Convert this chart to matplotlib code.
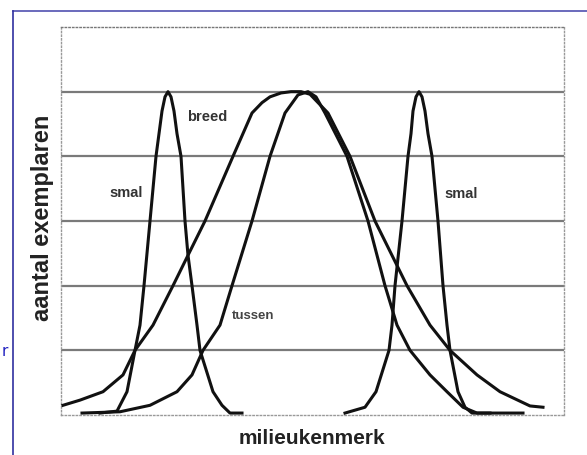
import matplotlib
matplotlib.use('Agg')
import matplotlib.pyplot as plt
from matplotlib.lines import Line2D

# curves (x in arbitrary units 0..503, y in grid units 0..6)
smal_l_x = [39, 56, 66, 74, 79, 83, 89, 95, 98, 101, 104, 107, 110, 113, 116, 120, 124, 127, 131, 136, 139, 152, 161, 169, 181]
smal_l_y = [0.03, 0.06, 0.36, 1.0, 1.39, 2.0, 3.0, 4.0, 4.35, 4.7, 4.92, 5.0, 4.92, 4.7, 4.35, 4.0, 3.0, 2.47, 2.0, 1.39, 1.0, 0.36, 0.15, 0.03, 0.03]

smal_r_x = [284, 304, 315, 328, 331, 334, 341, 347, 350, 352, 355, 358, 361, 364, 367, 371, 377, 382, 386, 389, 397, 404, 411, 429]
smal_r_y = [0.03, 0.12, 0.36, 1.0, 1.39, 2.0, 3.0, 4.0, 4.35, 4.7, 4.92, 5.0, 4.92, 4.7, 4.35, 4.0, 3.0, 2.0, 1.39, 1.0, 0.36, 0.12, 0.03, 0.03]

breed_x = [2, 19, 42, 62, 74, 92, 112, 127, 144, 172, 191, 201, 209, 220, 230, 240, 249, 267, 289, 314, 346, 369, 389, 416, 439, 469, 482]
breed_y = [0.15, 0.23, 0.36, 0.62, 1.0, 1.39, 2.0, 2.47, 3.0, 4.0, 4.67, 4.83, 4.92, 4.98, 5.0, 5.0, 4.96, 4.67, 4.0, 3.0, 2.0, 1.39, 1.0, 0.62, 0.36, 0.14, 0.12]

tussen_x = [21, 59, 89, 116, 131, 142, 159, 171, 191, 209, 224, 237, 247, 255, 264, 286, 307, 324, 336, 349, 369, 386, 402, 416, 462]
tussen_y = [0.03, 0.05, 0.15, 0.36, 0.62, 1.0, 1.39, 2.0, 3.0, 4.0, 4.67, 4.95, 5.0, 4.92, 4.67, 4.0, 3.0, 2.0, 1.39, 1.0, 0.62, 0.36, 0.12, 0.03, 0.03]

grid_levels = [1, 2, 3, 4, 5]

fig = plt.figure(figsize=(5.87, 4.55), dpi=100)
ax = fig.add_axes([61/587, 1 - 415/455, 503/587, 388/455])

for g in grid_levels:
    ax.axhline(g, color='#7a7a7a', linewidth=1.6, zorder=1)

for xs, ys in [(smal_l_x, smal_l_y), (smal_r_x, smal_r_y), (breed_x, breed_y), (tussen_x, tussen_y)]:
    ax.plot(xs, ys, color='#111111', linewidth=2.2, solid_joinstyle='round', zorder=3)

ax.set_xlim(0, 503)
ax.set_ylim(0, 6)
ax.set_xticks([])
ax.set_yticks([])
for s in ax.spines.values():
    s.set_linestyle(':')
    s.set_color('#999999')
    s.set_linewidth(1.0)
ax.spines['top'].set_color('#777777')

ax.text(146, 4.61, 'breed', fontsize=10.5, fontweight='bold', family='Liberation Sans',
        color='#333333', ha='center', va='center')
ax.text(65, 3.43, 'smal', fontsize=10.5, fontweight='bold', family='Liberation Sans',
        color='#333333', ha='center', va='center')
ax.text(400, 3.42, 'smal', fontsize=10.5, fontweight='bold', family='Liberation Sans',
        color='#333333', ha='center', va='center')
ax.text(192, 1.53, 'tussen', fontsize=9.5, fontweight='bold', family='Liberation Sans',
        color='#444444', ha='center', va='center')

fig.text(312/587, 1 - 438/455, 'milieukenmerk', fontsize=15, fontweight='bold',
         family='Liberation Sans', color='#222222', ha='center', va='center')
fig.text(43/587, 1 - 218/455, 'aantal exemplaren', fontsize=17, fontweight='bold',
         family='Liberation Sans', color='#222222', ha='center', va='center', rotation=90)

# outer page frame
fig.add_artist(Line2D([13/587, 1], [1 - 11/455, 1 - 11/455], color='#5050b0', linewidth=1.2))
fig.add_artist(Line2D([13/587, 13/587], [0, 1 - 11/455], color='#3030a0', linewidth=1.2))
fig.text(0.002, 1 - 352/455, 'r', fontsize=11, color='#2020c0', ha='left', va='center')

fig.savefig('out.png', dpi=100)
